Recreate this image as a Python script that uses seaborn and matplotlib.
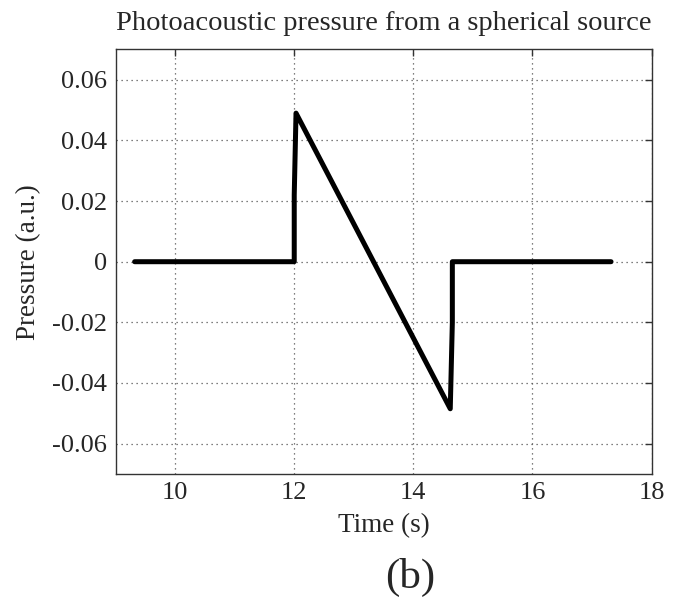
import numpy as np
import pandas as pd
import seaborn as sns
import matplotlib
matplotlib.use("Agg")
import matplotlib.pyplot as plt

# pressure trace (N-shaped pulse)
time_s = [9.32, 12.0, 12.0, 12.03, 14.62, 14.655, 14.655, 17.32]
pressure = [0.0, 0.0, 0.022, 0.049, -0.0485, -0.02, 0.0, 0.0]

x_ticks = [10, 12, 14, 16, 18]
y_ticks = [-0.06, -0.04, -0.02, 0, 0.02, 0.04, 0.06]
y_tick_labels = ["-0.06", "-0.04", "-0.02", "0", "0.02", "0.04", "0.06"]

df = pd.DataFrame({"Time": time_s, "Pressure": pressure})

sns.set_style("white")
plt.rcParams['font.family'] = ['Liberation Serif', 'DejaVu Serif']

fig = plt.figure(figsize=(6.88, 6.03), dpi=100)
ax = fig.add_axes([0.168, 0.214, 0.779, 0.704])

sns.lineplot(data=df, x="Time", y="Pressure", sort=False, estimator=None,
             color="black", linewidth=3.6, ax=ax)

ax.set_xlim(9, 18)
ax.set_ylim(-0.07, 0.07)
ax.set_xticks(x_ticks)
ax.set_yticks(y_ticks)
ax.set_yticklabels(y_tick_labels)

ax.grid(True, linestyle=(0, (1, 3)), color="#555555", linewidth=0.9)
ax.tick_params(direction="in", length=5, width=1, color="#333333",
               top=True, right=True, labelsize=19, pad=6)
for s in ax.spines.values():
    s.set_color("#333333")
    s.set_linewidth(1.0)

ax.set_title("Photoacoustic pressure from a spherical source", fontsize=20.5, pad=14)
ax.set_xlabel("Time (s)", fontsize=19.5, labelpad=6)
ax.set_ylabel("Pressure (a.u.)", fontsize=19.5, labelpad=8)

fig.text(0.596, 0.042, "(b)", fontsize=31, ha="center", va="center")

fig.savefig("out.png", dpi=100)
